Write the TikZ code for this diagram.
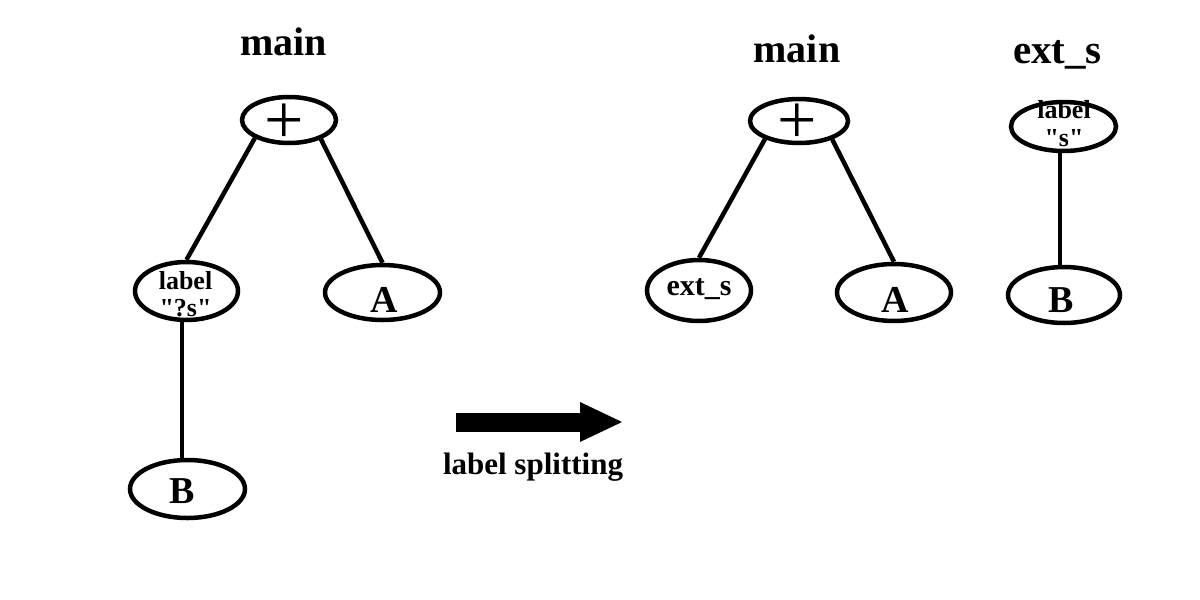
\documentclass[tikz,border=0pt]{standalone}
\usepackage{fontspec}
\setmainfont{Liberation Serif}[Ligatures=TeXOff]
\usetikzlibrary{shapes.geometric,arrows.meta}
\begin{document}
\begin{tikzpicture}[x=1pt,y=-1pt,
  ell/.style={draw,ellipse,line width=4.5pt,inner sep=0pt},
  conn/.style={line width=4.5pt},
  txt/.style={inner sep=0pt,anchor=base},
  title/.style={txt,font=\fontsize{40}{48}\selectfont\bfseries},
  plustxt/.style={inner sep=0pt,anchor=center,font=\fontsize{70}{74}\selectfont},
  lbltxt/.style={txt,font=\fontsize{26}{30}\selectfont\bfseries},
  bigtxt/.style={txt,font=\fontsize{38}{42}\selectfont\bfseries}]
\useasboundingbox (0,0) rectangle (1200,600);

% left tree
\node[title] (t1) at (283.5,55) {main};
\node[ell,minimum width=94pt,minimum height=46pt] (plusL) at (289,120) {};
\node[ell,minimum width=103pt,minimum height=58pt] (labL) at (186.5,291) {};
\node[ell,minimum width=115pt,minimum height=55pt] (AL) at (382.5,292.5) {};
\node[ell,minimum width=115pt,minimum height=58pt] (BL) at (187.5,489) {};
\node[plustxt] (plusLt) at (284,124) {+};
\node[lbltxt] (labL1) at (185.5,289) {label};
\node[lbltxt] (labL2) at (185.5,316) {"?s"};
\node[bigtxt] (ALt) at (384,312) {A};
\node[bigtxt] (BLt) at (182.5,503) {B};
\draw[conn] (plusL.208) -- (labL.north);
\draw[conn] (plusL.329) -- (AL.north);
\draw[conn] ([xshift=-4.5pt]labL.south) -- ([xshift=-5.5pt]BL.north);

% arrow
\coordinate (as) at (456,422);
\coordinate (ae) at (622,422);
\draw[line width=19pt,-{Triangle[length=42pt,width=40pt,line width=0pt]}] (as) -- (ae);
\node[txt,font=\fontsize{31}{36}\selectfont\bfseries] (split) at (533,474) {label splitting};

% right trees
\node[title] (t2) at (797,62) {main};
\node[title,font=\fontsize{41}{48}\selectfont\bfseries] (t3) at (1057.5,63) {ext\_s};
\node[ell,minimum width=98pt,minimum height=44pt] (plusR) at (799,121) {};
\node[ell,minimum width=104pt,minimum height=61pt] (extN) at (699,290.5) {};
\node[ell,minimum width=114pt,minimum height=57pt] (AR) at (894,292.5) {};
\node[ell,minimum width=105pt,minimum height=49pt] (labR) at (1063.5,126.5) {};
\node[ell,minimum width=112pt,minimum height=56pt] (BR) at (1064,295) {};
\node[plustxt] (plusRt) at (797,124) {+};
\node[txt,font=\fontsize{30}{34}\selectfont\bfseries] (extNt) at (699,295) {ext\_s};
\node[bigtxt] (ARt) at (895.5,312) {A};
\node[lbltxt] (labR1) at (1064,118) {label};
\node[lbltxt] (labR2) at (1064,146) {"s"};
\node[bigtxt] (BRt) at (1061.5,312) {B};
\draw[conn] (plusR.208) -- (extN.north);
\draw[conn] (plusR.331) -- (AR.north);
\draw[conn] ([xshift=-3.5pt]labR.south) -- ([xshift=-4pt]BR.north);
\end{tikzpicture}
\end{document}
